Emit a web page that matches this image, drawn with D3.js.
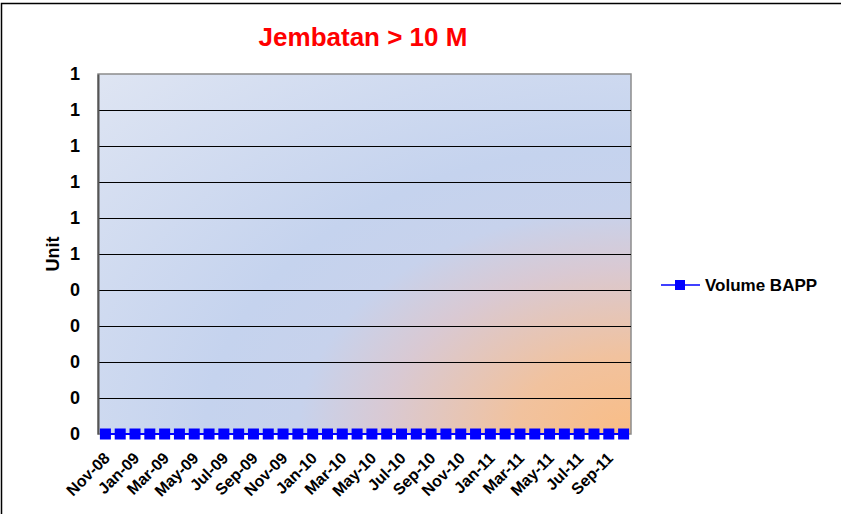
<!DOCTYPE html>
<html>
<head>
<meta charset="utf-8">
<style>
  body { margin: 0; background: #fff; }
  text { font-family: Arial, "Liberation Sans", sans-serif; font-weight: bold; }
</style>
</head>
<body>
<div id="chart"></div>
<script src="https://d3js.org/d3.v7.min.js"></script>
<script>
// months shown on the chart, Nov-08 .. Oct-11
var months = ["Nov-08","Dec-08","Jan-09","Feb-09","Mar-09","Apr-09","May-09","Jun-09","Jul-09","Aug-09","Sep-09","Oct-09",
              "Nov-09","Dec-09","Jan-10","Feb-10","Mar-10","Apr-10","May-10","Jun-10","Jul-10","Aug-10","Sep-10","Oct-10",
              "Nov-10","Dec-10","Jan-11","Feb-11","Mar-11","Apr-11","May-11","Jun-11","Jul-11","Aug-11","Sep-11","Oct-11"];
var volumeBAPP = [0,0,0,0,0,0,0,0,0,0,0,0,0,0,0,0,0,0,0,0,0,0,0,0,0,0,0,0,0,0,0,0,0,0,0,0];
var yTicks = [0, 0.1, 0.2, 0.3, 0.4, 0.5, 0.6, 0.7, 0.8, 0.9, 1.0];
var yTickLabels = ["0","0","0","0","0","1","1","1","1","1","1"];
var seriesName = "Volume BAPP";
var title = "Jembatan > 10 M";

var W = 841, H = 514;
var svg = d3.select("#chart").append("svg").attr("width", W).attr("height", H);

// outer frame
svg.append("rect").attr("x", 1.5).attr("y", 3.5).attr("width", W + 10).attr("height", H + 10)
   .attr("fill", "#fff").attr("stroke", "#000").attr("stroke-width", 1.5);

var pl = 98, pr = 631, pt = 74, pb = 434;

// plot background: orange glow in the lower right corner, blue elsewhere
var defs = svg.append("defs");
var grad = defs.append("radialGradient").attr("id", "bg")
    .attr("cx", 1).attr("cy", 1).attr("r", 1.45);
grad.append("stop").attr("offset", "0").attr("stop-color", "#f9bd86");
grad.append("stop").attr("offset", "0.15").attr("stop-color", "#f1c29e");
grad.append("stop").attr("offset", "0.32").attr("stop-color", "#d9c9d3");
grad.append("stop").attr("offset", "0.43").attr("stop-color", "#c7d2ec");
grad.append("stop").attr("offset", "0.55").attr("stop-color", "#c5d3ee");
grad.append("stop").attr("offset", "1").attr("stop-color", "#e0e6f3");

var x = d3.scaleBand().domain(months).range([pl, pr]);
var y = d3.scaleLinear().domain([0, 1]).range([pb, pt]);

svg.append("rect").attr("x", pl).attr("y", pt)
   .attr("width", pr - pl).attr("height", pb - pt)
   .attr("fill", "url(#bg)").attr("stroke", "#8c8c8c").attr("stroke-width", 1.5);

// gridlines
svg.append("g").selectAll("line").data(yTicks.slice(1, -1)).enter().append("line")
   .attr("x1", pl).attr("x2", pr)
   .attr("y1", function(d) { return Math.round(y(d)) + 0.5; })
   .attr("y2", function(d) { return Math.round(y(d)) + 0.5; })
   .attr("stroke", "#000").attr("stroke-width", 1);

// y axis
var yAxis = svg.append("g").attr("transform", "translate(" + pl + ",0)")
   .call(d3.axisLeft(y).tickValues(yTicks).tickSize(0).tickPadding(18)
      .tickFormat(function(d, i) { return yTickLabels[i]; }));
yAxis.select(".domain").attr("stroke", "#555").attr("stroke-width", 2);
yAxis.selectAll("text").attr("font-size", 18).attr("fill", "#000");

// x axis labels, every other month
var xAxis = svg.append("g").attr("transform", "translate(0," + pb + ")")
   .call(d3.axisBottom(x).tickSize(0).tickPadding(0)
      .tickValues(months.filter(function(d, i) { return i % 2 === 0; })));
xAxis.select(".domain").remove();
xAxis.selectAll("text")
   .attr("font-size", 16).attr("fill", "#000")
   .attr("text-anchor", "end")
   .attr("x", -14).attr("y", 16).attr("dy", "0.35em")
   .attr("transform", "rotate(-45)");

// series
var line = d3.line()
   .x(function(d, i) { return x(months[i]) + x.bandwidth() / 2; })
   .y(function(d) { return y(d); });
svg.append("path").datum(volumeBAPP).attr("d", line)
   .attr("fill", "none").attr("stroke", "#0000ff").attr("stroke-width", 2);
svg.append("g").selectAll("rect").data(volumeBAPP).enter().append("rect")
   .attr("x", function(d, i) { return x(months[i]) + x.bandwidth() / 2 - 5.5; })
   .attr("y", function(d) { return y(d) - 5.5; })
   .attr("width", 11).attr("height", 11)
   .attr("fill", "#0000ff");

// title
svg.append("text").attr("x", 363).attr("y", 46).attr("text-anchor", "middle")
   .attr("font-size", 26).attr("fill", "#ff0000").text(title);

// y axis title
svg.append("text").attr("transform", "translate(59,254) rotate(-90)")
   .attr("text-anchor", "middle").attr("font-size", 18).attr("fill", "#000").text("Unit");

// legend
var lg = svg.append("g").attr("transform", "translate(661,285)");
lg.append("line").attr("x1", 0).attr("x2", 39).attr("y1", 0).attr("y2", 0)
  .attr("stroke", "#0000ff").attr("stroke-width", 1.5);
lg.append("rect").attr("x", 14).attr("y", -5).attr("width", 10).attr("height", 10).attr("fill", "#0000ff");
lg.append("text").attr("x", 44).attr("y", 6).attr("font-size", 17).attr("fill", "#000").text(seriesName);
</script>
</body>
</html>
